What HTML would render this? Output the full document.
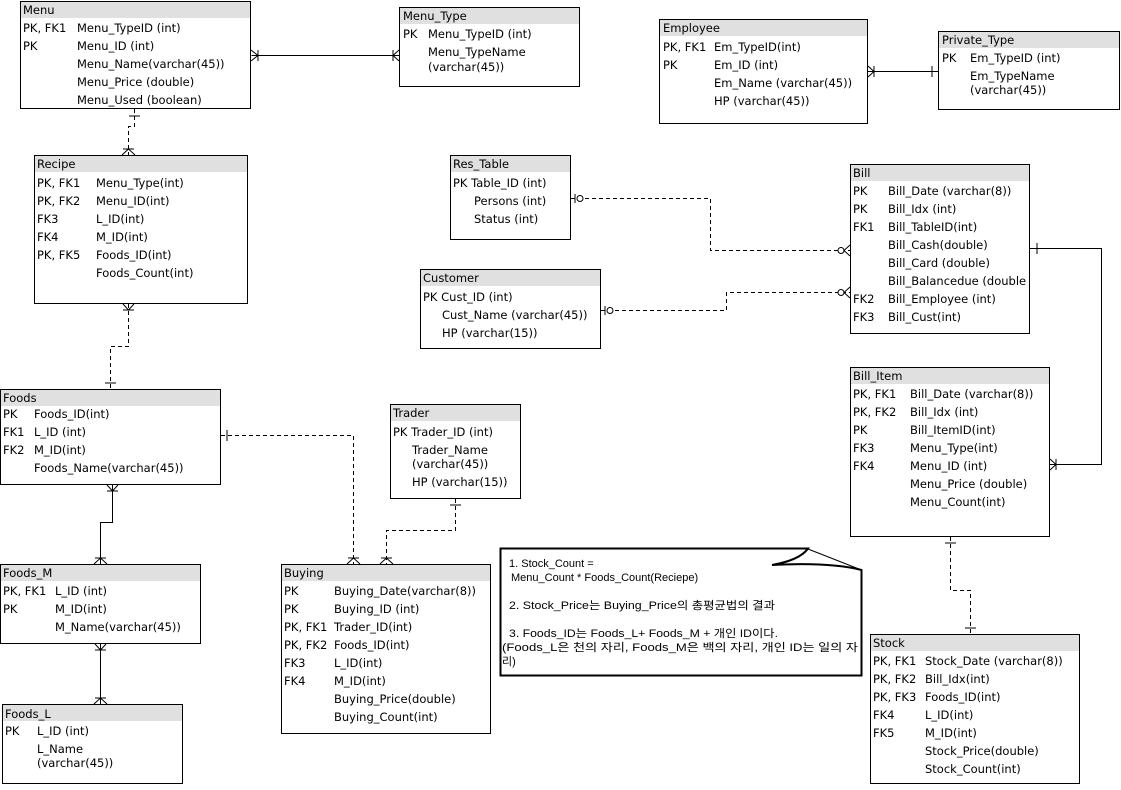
<!DOCTYPE html>
<html><head><meta charset="utf-8"><style>
body{margin:0;background:#fff}
svg text{font-family:"DejaVu Sans","Noto Sans CJK KR",sans-serif;font-size:11.5px;fill:#000}
.t rect.b{fill:#fff;stroke:#000;stroke-width:1}
.h{fill:#e0e0e0}
.n text{font-family:"Liberation Sans","Noto Sans CJK KR",sans-serif;font-size:11px}
</style></head><body>
<svg width="1121" height="785" xmlns="http://www.w3.org/2000/svg">
<g fill="none" stroke="#000" stroke-width="1">
<path d="M251.5 55.5H399"/><path d="M868 71.5H938"/>
<path d="M112.5 485V522.5H100.5V564"/><path d="M100.5 644V704"/>
<path d="M1030 248.5H1101.5V464.5H1050"/>
<g stroke-dasharray="4,3">
<path d="M134.5 109V126.5H128.5V155"/>
<path d="M128.5 304V346.5H110.5V389"/>
<path d="M221 435.5H353.5V564"/>
<path d="M455.5 499V530.5H386.5V564"/>
<path d="M571 198.5H710.5V250.5H850"/>
<path d="M601 310.5H726.5V292.5H850"/>
<path d="M950.5 537V590.5H970.5V634"/>
</g>
<path d="M258 50v11M251 50l7 5.5-7 5.5"/><path d="M393 50v11M399 50l-6 5.5 6 5.5"/>
<path d="M874 66v11M868 66l6 5.5-6 5.5"/><path d="M932 66v11"/>
<path d="M129 116h11"/><path d="M123 149h11M122 155l6.5-6 6.5 6"/>
<path d="M123 310h11M123 304l5.5 6 5.5-6"/><path d="M105 383h11"/>
<path d="M107 491h11M107 485l5.5 6 5.5-6"/><path d="M95 558h11M94 564l6.5-6 6.5 6"/>
<path d="M95 650h11M95 644l5.5 6 5.5-6"/><path d="M95 698h11M94 704l6.5-6 6.5 6"/>
<path d="M227 430v11"/><path d="M348 558h11M347 564l6.5-6 6.5 6"/>
<path d="M450 505h11"/><path d="M381 558h11M380 564l6.5-6 6.5 6"/>
<circle cx="580" cy="198.5" r="3" fill="#fff"/><path d="M575 194v9"/>
<circle cx="610" cy="310.5" r="3" fill="#fff"/><path d="M605 306v9"/>
<circle cx="841" cy="250.5" r="3" fill="#fff"/><path d="M850 245l-6 5.5 6 5.5"/>
<circle cx="841" cy="292.5" r="3" fill="#fff"/><path d="M850 287l-6 5.5 6 5.5"/>
<path d="M1037 243v11"/><path d="M1056 459v11M1050 459l6 5.5-6 5.5"/>
<path d="M945 543h11"/><path d="M965 628h11"/>
</g>
<g class="t">
<rect class="b" x="20.5" y="1.5" width="230" height="107"/><rect class="h" x="21" y="2" width="229" height="16"/>
<text x="23" y="14">Menu</text>
<text x="23" y="32">PK, FK1</text><text x="77" y="32">Menu_TypeID (int)</text>
<text x="23" y="50">PK</text><text x="77" y="50">Menu_ID (int)</text>
<text x="77" y="68">Menu_Name(varchar(45))</text><text x="77" y="86">Menu_Price (double)</text><text x="77" y="104">Menu_Used (boolean)</text>

<rect class="b" x="399.5" y="7.5" width="180" height="79"/><rect class="h" x="400" y="8" width="179" height="16"/>
<text x="403" y="20">Menu_Type</text>
<text x="403" y="38">PK</text><text x="428" y="38">Menu_TypeID (int)</text>
<text x="428" y="56">Menu_TypeName</text><text x="428" y="71">(varchar(45))</text>

<rect class="b" x="659.5" y="19.5" width="208" height="104"/><rect class="h" x="660" y="20" width="207" height="16"/>
<text x="663" y="32">Employee</text>
<text x="663" y="51">PK, FK1</text><text x="714" y="51">Em_TypeID(int)</text>
<text x="663" y="69">PK</text><text x="714" y="69">Em_ID (int)</text>
<text x="714" y="87">Em_Name (varchar(45))</text><text x="714" y="105">HP (varchar(45))</text>

<rect class="b" x="938.5" y="31.5" width="181" height="78"/><rect class="h" x="939" y="32" width="180" height="16"/>
<text x="942" y="44">Private_Type</text>
<text x="942" y="62">PK</text><text x="970" y="62">Em_TypeID (int)</text>
<text x="970" y="80">Em_TypeName</text><text x="970" y="94">(varchar(45))</text>

<rect class="b" x="450.5" y="155.5" width="120" height="84"/><rect class="h" x="451" y="156" width="119" height="16"/>
<text x="453" y="168">Res_Table</text>
<text x="453" y="187">PK Table_ID (int)</text><text x="474" y="205">Persons (int)</text><text x="474" y="223">Status (int)</text>

<rect class="b" x="850.5" y="164.5" width="179" height="169"/><rect class="h" x="851" y="165" width="178" height="16"/>
<text x="853" y="177">Bill</text>
<text x="853" y="195">PK</text><text x="888" y="195">Bill_Date (varchar(8))</text>
<text x="853" y="213">PK</text><text x="888" y="213">Bill_Idx (int)</text>
<text x="853" y="231">FK1</text><text x="888" y="231">Bill_TableID(int)</text>
<text x="888" y="249">Bill_Cash(double)</text><text x="888" y="267">Bill_Card (double)</text>
<text x="888" y="285">Bill_Balancedue (double</text>
<text x="853" y="303">FK2</text><text x="888" y="303">Bill_Employee (int)</text>
<text x="853" y="321">FK3</text><text x="888" y="321">Bill_Cust(int)</text>

<rect class="b" x="420.5" y="269.5" width="180" height="79"/><rect class="h" x="421" y="270" width="179" height="16"/>
<text x="423" y="282">Customer</text>
<text x="423" y="301">PK Cust_ID (int)</text><text x="442" y="319">Cust_Name (varchar(45))</text><text x="442" y="337">HP (varchar(15))</text>

<rect class="b" x="34.5" y="155.5" width="213" height="148"/><rect class="h" x="35" y="156" width="212" height="16"/>
<text x="37" y="168">Recipe</text>
<text x="37" y="187">PK, FK1</text><text x="96" y="187">Menu_Type(int)</text>
<text x="37" y="205">PK, FK2</text><text x="96" y="205">Menu_ID(int)</text>
<text x="37" y="223">FK3</text><text x="96" y="223">L_ID(int)</text>
<text x="37" y="241">FK4</text><text x="96" y="241">M_ID(int)</text>
<text x="37" y="259">PK, FK5</text><text x="96" y="259">Foods_ID(int)</text>
<text x="96" y="277">Foods_Count(int)</text>

<rect class="b" x="0.5" y="389.5" width="220" height="95"/><rect class="h" x="1" y="390" width="219" height="16"/>
<text x="3" y="402">Foods</text>
<text x="3" y="418">PK</text><text x="34" y="418">Foods_ID(int)</text>
<text x="3" y="436">FK1</text><text x="34" y="436">L_ID (int)</text>
<text x="3" y="454">FK2</text><text x="34" y="454">M_ID(int)</text>
<text x="34" y="472">Foods_Name(varchar(45))</text>

<rect class="b" x="390.5" y="404.5" width="130" height="94"/><rect class="h" x="391" y="405" width="129" height="16"/>
<text x="393" y="417">Trader</text>
<text x="393" y="436">PK Trader_ID (int)</text><text x="412" y="454">Trader_Name</text><text x="412" y="468">(varchar(45))</text><text x="412" y="486">HP (varchar(15))</text>

<rect class="b" x="850.5" y="367.5" width="199" height="169"/><rect class="h" x="851" y="368" width="198" height="16"/>
<text x="853" y="380">Bill_Item</text>
<text x="853" y="398">PK, FK1</text><text x="910" y="398">Bill_Date (varchar(8))</text>
<text x="853" y="416">PK, FK2</text><text x="910" y="416">Bill_Idx (int)</text>
<text x="853" y="434">PK</text><text x="910" y="434">Bill_ItemID(int)</text>
<text x="853" y="452">FK3</text><text x="910" y="452">Menu_Type(int)</text>
<text x="853" y="470">FK4</text><text x="910" y="470">Menu_ID (int)</text>
<text x="910" y="488">Menu_Price (double)</text><text x="910" y="506">Menu_Count(int)</text>

<rect class="b" x="281.5" y="564.5" width="209" height="169"/><rect class="h" x="282" y="565" width="208" height="16"/>
<text x="284" y="577">Buying</text>
<text x="284" y="595">PK</text><text x="334" y="595">Buying_Date(varchar(8))</text>
<text x="284" y="613">PK</text><text x="334" y="613">Buying_ID (int)</text>
<text x="284" y="631">PK, FK1</text><text x="334" y="631">Trader_ID(int)</text>
<text x="284" y="649">PK, FK2</text><text x="334" y="649">Foods_ID(int)</text>
<text x="284" y="667">FK3</text><text x="334" y="667">L_ID(int)</text>
<text x="284" y="685">FK4</text><text x="334" y="685">M_ID(int)</text>
<text x="334" y="703">Buying_Price(double)</text><text x="334" y="721">Buying_Count(int)</text>

<rect class="b" x="0.5" y="564.5" width="200" height="79"/><rect class="h" x="1" y="565" width="199" height="16"/>
<text x="3" y="577">Foods_M</text>
<text x="3" y="595">PK, FK1</text><text x="55" y="595">L_ID (int)</text>
<text x="3" y="613">PK</text><text x="55" y="613">M_ID(int)</text>
<text x="55" y="631">M_Name(varchar(45))</text>

<rect class="b" x="2.5" y="704.5" width="180" height="79"/><rect class="h" x="3" y="705" width="179" height="16"/>
<text x="5" y="718">Foods_L</text>
<text x="5" y="735">PK</text><text x="37" y="735">L_ID (int)</text>
<text x="37" y="753">L_Name</text><text x="37" y="767">(varchar(45))</text>

<rect class="b" x="870.5" y="634.5" width="209" height="149"/><rect class="h" x="871" y="635" width="208" height="16"/>
<text x="873" y="647">Stock</text>
<text x="873" y="665">PK, FK1</text><text x="925" y="665">Stock_Date (varchar(8))</text>
<text x="873" y="683">PK, FK2</text><text x="925" y="683">Bill_Idx(int)</text>
<text x="873" y="701">PK, FK3</text><text x="925" y="701">Foods_ID(int)</text>
<text x="873" y="719">FK4</text><text x="925" y="719">L_ID(int)</text>
<text x="873" y="737">FK5</text><text x="925" y="737">M_ID(int)</text>
<text x="925" y="755">Stock_Price(double)</text><text x="925" y="773">Stock_Count(int)</text>
</g>
<g class="n">
<path d="M500.5 548.5H808Q800 560 772 565Q830 562 861.5 570V675.5H500.5Z" fill="#fff" stroke="#000" stroke-width="2"/>
<path d="M808 549L861.5 570" fill="none" stroke="#000" stroke-width="1"/>
<text x="509" y="567">1. Stock_Count =</text>
<text x="511" y="581">Menu_Count * Foods_Count(Reciepe)</text>
<text x="509" y="609" textLength="266" lengthAdjust="spacingAndGlyphs">2. Stock_Price는 Buying_Price의 총평균법의 결과</text>
<text x="509" y="637" textLength="269" lengthAdjust="spacingAndGlyphs">3. Foods_ID는 Foods_L+ Foods_M + 개인 ID이다.</text>
<text x="502" y="651" textLength="356" lengthAdjust="spacingAndGlyphs">(Foods_L은 천의 자리, Foods_M은 백의 자리, 개인 ID는 일의 자</text>
<text x="502" y="665">리)</text>
</g>
</svg>
</body></html>
